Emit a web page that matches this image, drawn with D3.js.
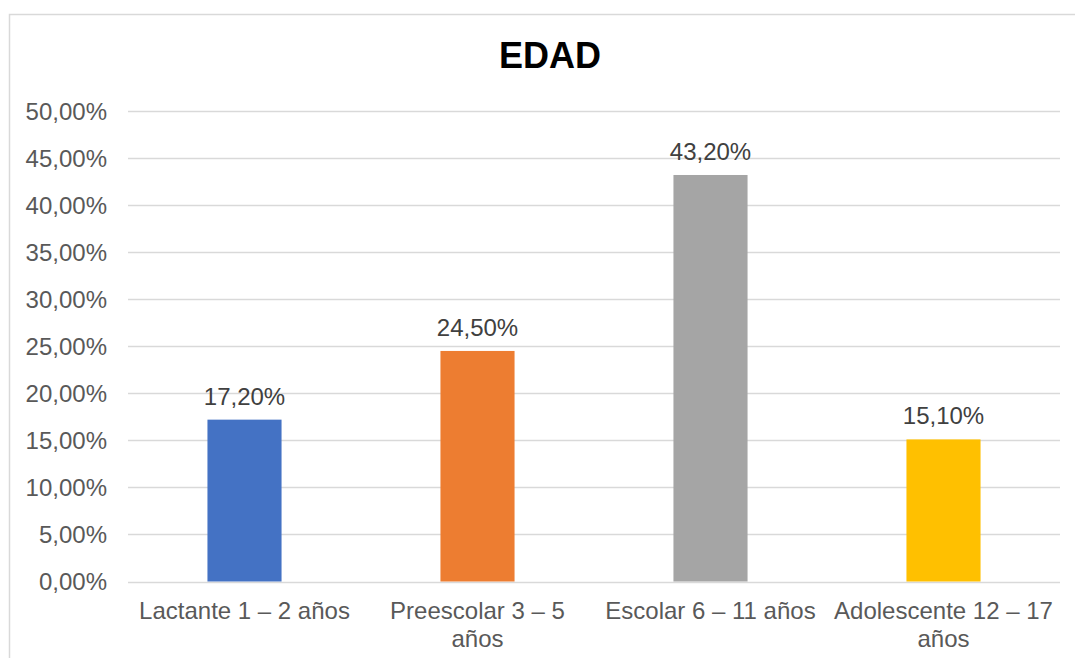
<!DOCTYPE html>
<html>
<head>
<meta charset="utf-8">
<script src="https://cdn.jsdelivr.net/npm/d3@7"></script>
<style>
  html, body { margin: 0; padding: 0; background: #fff; }
  svg { display: block; font-family: "Liberation Sans", Arial, sans-serif; }
</style>
</head>
<body>
<svg id="chart" width="1075" height="658"></svg>
<script>
// Age groups and their share of the sample
const categories = ["Lactante 1 – 2 años", "Preescolar 3 – 5 años", "Escolar 6 – 11 años", "Adolescente 12 – 17 años"];
const labelLines = [["Lactante 1 – 2 años"], ["Preescolar 3 – 5", "años"], ["Escolar 6 – 11 años"], ["Adolescente 12 – 17", "años"]];
const values = [17.2, 24.5, 43.2, 15.1];
const colors = ["#4472C4", "#ED7D31", "#A5A5A5", "#FFC000"];
const yTicks = [0, 5, 10, 15, 20, 25, 30, 35, 40, 45, 50];
const title = "EDAD";

const fmt = v => v.toFixed(2).replace(".", ",") + "%";

const svg = d3.select("#chart");
const W = 1075, H = 658;

// Outer chart frame (runs off the right and bottom edges)
svg.append("rect")
  .attr("x", 9.5).attr("y", 14.5)
  .attr("width", W + 20).attr("height", H + 20)
  .attr("fill", "#fff").attr("stroke", "#d9d9d9").attr("stroke-width", 1.5);

const plot = { left: 128, right: 1060, top: 111, bottom: 581.5 };

const x = d3.scaleBand()
  .domain(categories)
  .range([plot.left, plot.right])
  .paddingInner(0.682)
  .paddingOuter(0.341);

const y = d3.scaleLinear()
  .domain([0, 50])
  .range([plot.bottom, plot.top]);

// Title
svg.append("text")
  .attr("x", 550).attr("y", 68)
  .attr("text-anchor", "middle")
  .attr("font-size", 36).attr("font-weight", "bold")
  .attr("fill", "#000")
  .text(title);

// Gridlines
svg.append("g")
  .selectAll("line")
  .data(yTicks)
  .join("line")
  .attr("x1", plot.left).attr("x2", plot.right)
  .attr("y1", d => Math.round(y(d)) + 0.5)
  .attr("y2", d => Math.round(y(d)) + 0.5)
  .attr("stroke", "#d9d9d9").attr("stroke-width", 1.5);

// Y axis labels
const yAxis = d3.axisLeft(y).tickValues(yTicks).tickFormat(fmt).tickSize(0).tickPadding(0);
const gy = svg.append("g").attr("transform", `translate(107,0)`).call(yAxis);
gy.select(".domain").remove();
gy.selectAll("text")
  .attr("font-size", 24).attr("fill", "#595959")
  .attr("font-family", "Liberation Sans, Arial, sans-serif")
  .attr("dy", "0.35em");

// Bars
svg.append("g")
  .selectAll("rect")
  .data(values)
  .join("rect")
  .attr("x", (d, i) => x(categories[i]))
  .attr("width", x.bandwidth())
  .attr("y", d => y(d))
  .attr("height", d => y(0) - y(d))
  .attr("fill", (d, i) => colors[i]);

// Value labels
svg.append("g")
  .selectAll("text")
  .data(values)
  .join("text")
  .attr("x", (d, i) => x(categories[i]) + x.bandwidth() / 2)
  .attr("y", d => y(d) - 15)
  .attr("text-anchor", "middle")
  .attr("font-size", 24).attr("fill", "#404040")
  .text(d => fmt(d));

// Category labels
const gx = svg.append("g");
categories.forEach((c, i) => {
  const t = gx.append("text")
    .attr("x", x(c) + x.bandwidth() / 2)
    .attr("y", 619)
    .attr("text-anchor", "middle")
    .attr("font-size", 24).attr("fill", "#595959");
  labelLines[i].forEach((line, j) => {
    t.append("tspan")
      .attr("x", x(c) + x.bandwidth() / 2)
      .attr("dy", j === 0 ? 0 : 28)
      .text(line);
  });
});
</script>
</body>
</html>
